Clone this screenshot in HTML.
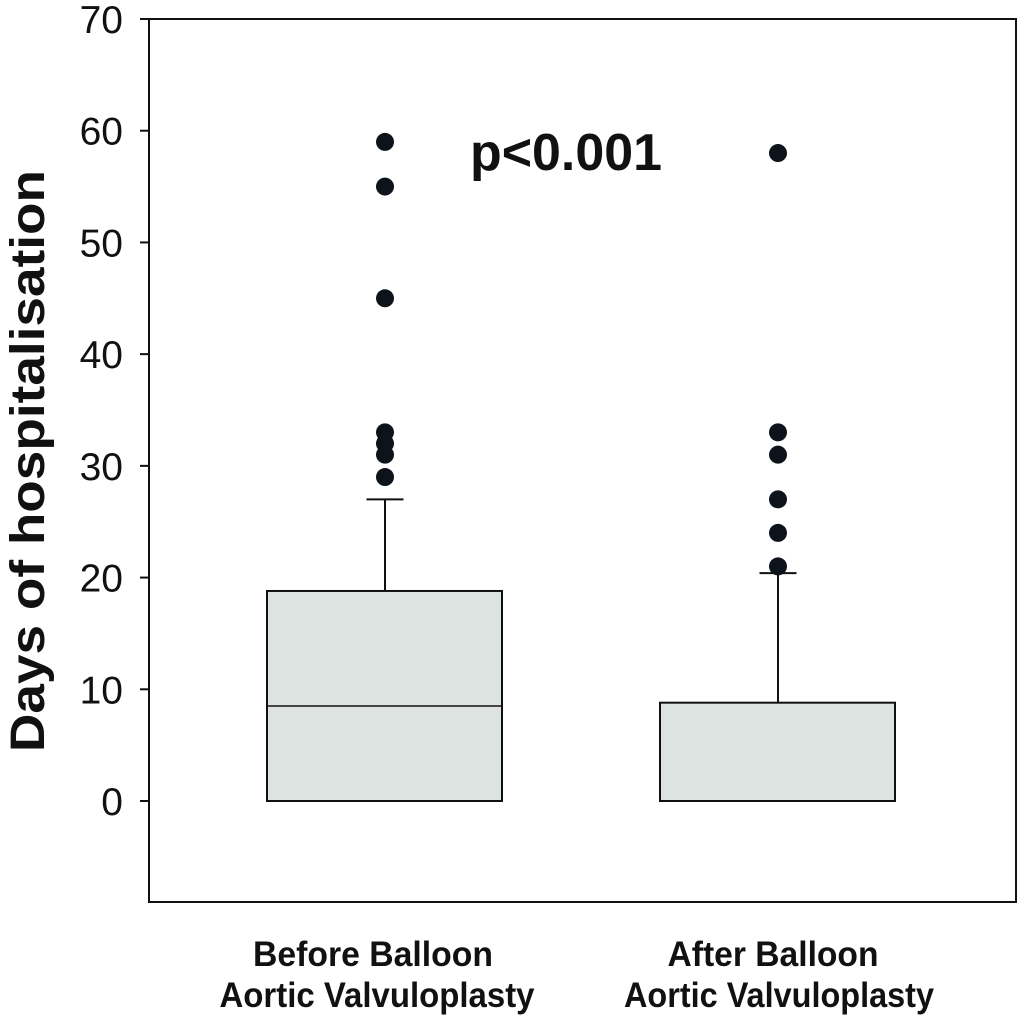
<!DOCTYPE html>
<html><head><meta charset="utf-8"><style>
html,body{margin:0;padding:0;background:#fff;}
svg{display:block;font-family:"Liberation Sans",Arial,sans-serif;}
</style></head><body>
<svg id="chart" width="1020" height="1019" viewBox="0 0 1020 1019">
<rect x="149" y="19" width="867" height="883" fill="none" stroke="#111" stroke-width="2"/>
<g id="axis"></g>
<g id="boxes"></g>
<text x="566" y="170" font-size="52" font-weight="bold" text-anchor="middle" fill="#111" textLength="192" lengthAdjust="spacingAndGlyphs">p&lt;0.001</text>
<text transform="translate(44,461) rotate(-90)" font-size="48" font-weight="bold" text-anchor="middle" fill="#111" textLength="582" lengthAdjust="spacingAndGlyphs">Days of hospitalisation</text>
<g font-size="35" font-weight="bold" fill="#111" text-anchor="middle">
<text x="373" y="966" textLength="240" lengthAdjust="spacingAndGlyphs">Before Balloon</text>
<text x="377" y="1007" textLength="315" lengthAdjust="spacingAndGlyphs">Aortic Valvuloplasty</text>
<text x="773" y="966" textLength="211" lengthAdjust="spacingAndGlyphs">After Balloon</text>
<text x="779" y="1007" textLength="310" lengthAdjust="spacingAndGlyphs">Aortic Valvuloplasty</text>
</g>
</svg>
<script>
const yTicks=[0,10,20,30,40,50,60,70];
const categories=["Before Balloon Aortic Valvuloplasty","After Balloon Aortic Valvuloplasty"];
const q1=[0,0];
const medians=[8.5,0];
const q3=[18.8,8.8];
const whiskerHigh=[27,20.4];
const outliersBefore=[29,31,32,33,45,55,59];
const outliersAfter=[21,24,27,31,33,58];
const outliers=[outliersBefore,outliersAfter];

const NS="http://www.w3.org/2000/svg";
function y(v){return 801-(v*782/70);}
function xc(i){return 385+i*393;}
const boxW=235, capW=37;
function mk(tag,attrs,parent){const e=document.createElementNS(NS,tag);for(const k in attrs)e.setAttribute(k,attrs[k]);parent.appendChild(e);return e;}
const ax=document.getElementById('axis');
yTicks.forEach(t=>{
  const l=mk('line',{x1:140,x2:149,y1:y(t),y2:y(t),stroke:'#111','stroke-width':2},ax);
  
  
  const tx=mk('text',{x:123,y:y(t)+14,'font-size':39,'text-anchor':'end',fill:'#111'},ax);
  tx.textContent=t;
  
  
});
const bx=document.getElementById('boxes');
categories.forEach((c,i)=>{
  const cx=xc(i);
  const g=mk('g',{},bx);
  
  
  mk('line',{x1:cx,x2:cx,y1:y(q3[i]),y2:y(whiskerHigh[i]),stroke:'#111','stroke-width':2},g);
  mk('line',{x1:cx-capW/2,x2:cx+capW/2,y1:y(whiskerHigh[i]),y2:y(whiskerHigh[i]),stroke:'#111','stroke-width':2},g);
  mk('rect',{x:cx-118,y:y(q3[i]),width:boxW,height:y(q1[i])-y(q3[i]),fill:'#dce3e1',stroke:'#111','stroke-width':2},g);
  mk('line',{x1:cx-118,x2:cx-118+boxW,y1:y(medians[i]),y2:y(medians[i]),stroke:'#111','stroke-width':1.5},g);
  outliers[i].forEach(v=>{
    const d=mk('circle',{cx:cx,cy:y(v),r:9,fill:'#0d131a'},g);
    
    
  });
});
</script>
</body></html>
